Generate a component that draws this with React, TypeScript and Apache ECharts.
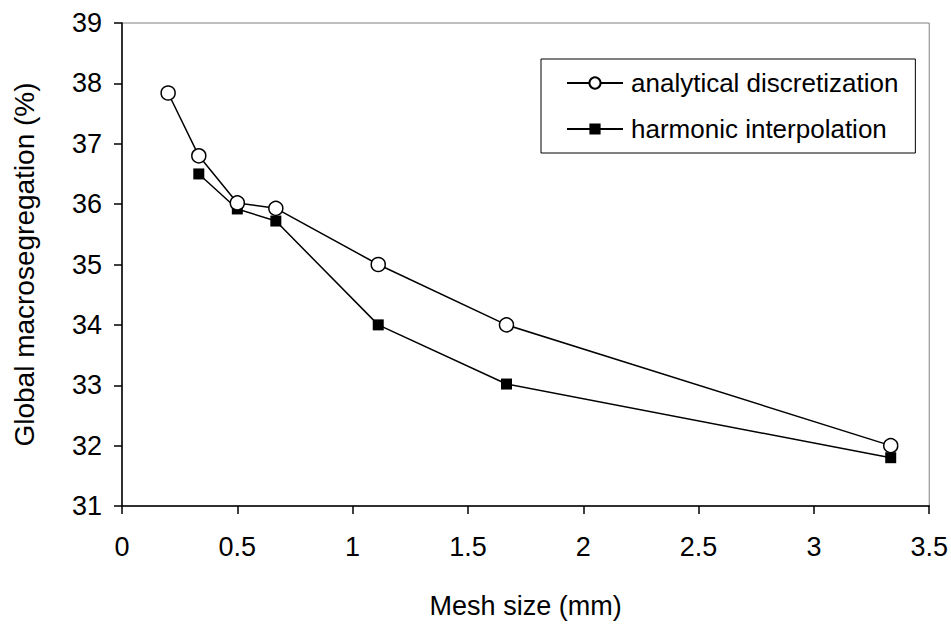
import React, { useEffect, useRef } from "react";
import * as echarts from "echarts";

const meshSizes = [0.2, 0.333, 0.5, 0.667, 1.111, 1.667, 3.333];
const analytical = [37.84, 36.8, 36.02, 35.93, 35.0, 34.0, 32.0];
const harmonicSizes = [0.333, 0.5, 0.667, 1.111, 1.667, 3.333];
const harmonic = [36.5, 35.92, 35.72, 34.0, 33.02, 31.8];
const seriesNames = ["analytical discretization", "harmonic interpolation"];
const xTitle = "Mesh size (mm)";
const yTitle = "Global macrosegregation (%)";

const FONT = "Liberation Sans, Arial, sans-serif";

export default function App() {
  const ref = useRef<HTMLDivElement>(null);
  useEffect(() => {
    if (!ref.current) return;
    const chart = echarts.init(ref.current, undefined, { renderer: "svg" });
    chart.setOption({
      animation: false,
      backgroundColor: "#fff",
      textStyle: { fontFamily: FONT },
      grid: {
        left: 122,
        right: 21,
        top: 23,
        bottom: 115,
        show: true,
        borderColor: "#808080",
        borderWidth: 1,
      },
      legend: {
        left: 541,
        top: 59,
        orient: "vertical",
        backgroundColor: "#fff",
        borderColor: "#000",
        borderWidth: 1,
        borderRadius: 0,
        padding: [11, 17, 11, 25],
        itemWidth: 56,
        itemHeight: 14,
        itemGap: 20,
        textStyle: {
          fontFamily: FONT,
          fontSize: 26,
          color: "#000",
          lineHeight: 26,
          padding: [0, 0, 0, 3],
        },
        data: seriesNames,
      },
      xAxis: {
        type: "value",
        min: 0,
        max: 3.5,
        interval: 0.5,
        name: xTitle,
        nameLocation: "middle",
        nameGap: 86,
        nameTextStyle: { fontFamily: FONT, fontSize: 27, color: "#000" },
        axisLine: { show: true, onZero: false, lineStyle: { color: "#000", width: 1.5 } },
        axisTick: { show: true, inside: false, length: 8, lineStyle: { color: "#000", width: 1.5 } },
        axisLabel: { margin: 27, fontFamily: FONT, fontSize: 27, color: "#000" },
        splitLine: { show: false },
      },
      yAxis: {
        type: "value",
        min: 31,
        max: 39,
        interval: 1,
        name: yTitle,
        nameLocation: "middle",
        nameGap: 84,
        nameTextStyle: { fontFamily: FONT, fontSize: 28, color: "#000" },
        axisLine: { show: true, onZero: false, lineStyle: { color: "#000", width: 1.5 } },
        axisTick: { show: true, inside: false, length: 8, lineStyle: { color: "#000", width: 1.5 } },
        axisLabel: { margin: 20, fontFamily: FONT, fontSize: 27, color: "#000" },
        splitLine: { show: false },
      },
      series: [
        {
          name: seriesNames[0],
          type: "line",
          data: meshSizes.map((x, i) => [x, analytical[i]]),
          symbol: "circle",
          symbolSize: 14,
          showAllSymbol: true,
          lineStyle: { color: "#000", width: 1.5 },
          itemStyle: { color: "#fff", borderColor: "#000", borderWidth: 1.5 },
          z: 3,
        },
        {
          name: seriesNames[1],
          type: "line",
          data: harmonicSizes.map((x, i) => [x, harmonic[i]]),
          symbol: "rect",
          symbolSize: 11,
          showAllSymbol: true,
          lineStyle: { color: "#000", width: 1.5 },
          itemStyle: { color: "#000", borderColor: "#000", borderWidth: 0 },
          z: 2,
        },
      ],
    });
    return () => chart.dispose();
  }, []);
  return <div ref={ref} style={{ width: 951, height: 624, position: "absolute", left: 0, top: 0 }} />;
}
